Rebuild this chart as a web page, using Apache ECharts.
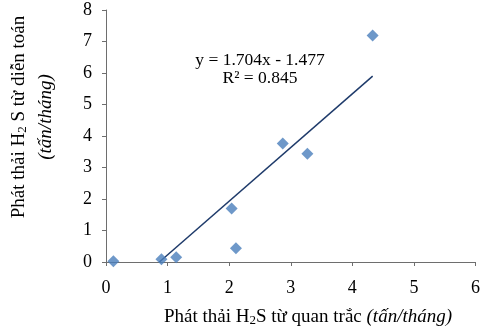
<!DOCTYPE html>
<html>
<head>
<meta charset="utf-8">
<script src="https://cdn.jsdelivr.net/npm/echarts@6/dist/echarts.min.js"></script>
<style>
  html, body { margin: 0; padding: 0; background: #fff; }
  #chart { width: 483px; height: 334px; }
</style>
</head>
<body>
<div id="chart"></div>
<script>
// observed vs modelled H2S emissions (tấn/tháng)
const observed = [0.12, 0.90, 1.14, 2.04, 2.11, 2.87, 3.27, 4.33]
const modelled = [0.02, 0.09, 0.15, 1.70, 0.44, 3.76, 3.44, 7.19]
const xTicks = [0, 1, 2, 3, 4, 5, 6]
const yTicks = [0, 1, 2, 3, 4, 5, 6, 7, 8]

// linear trendline shown on the chart
const slope = 1.704
const intercept = -1.477
const trendX = [-intercept / slope, 4.33]

const chartDom = document.getElementById('chart')
const myChart = echarts.init(chartDom)

const serif = '"Liberation Serif", "Times New Roman", serif'
const axisColor = '#6e6e6e'

const points = observed.map((x, i) => [x, modelled[i]])
const trend = trendX.map(x => [x, slope * x + intercept])

const option = {
  animation: false,
  grid: { left: 106, right: 7, top: 10, bottom: 72 },
  xAxis: {
    type: 'value',
    min: xTicks[0],
    max: xTicks[xTicks.length - 1],
    interval: 1,
    splitLine: { show: false },
    axisLine: { lineStyle: { color: axisColor } },
    axisTick: { show: true, length: 4, lineStyle: { color: axisColor } },
    axisLabel: { margin: 17, color: '#000', fontFamily: serif, fontSize: 18 }
  },
  yAxis: {
    type: 'value',
    min: yTicks[0],
    max: yTicks[yTicks.length - 1],
    interval: 1,
    splitLine: { show: false },
    axisLine: { show: true, lineStyle: { color: axisColor } },
    axisTick: { show: true, length: 4, lineStyle: { color: axisColor } },
    axisLabel: { margin: 14, color: '#000', fontFamily: serif, fontSize: 18 }
  },
  series: [
    {
      type: 'line',
      data: trend,
      showSymbol: false,
      lineStyle: { color: '#1F3B6B', width: 1.5 },
      z: 1
    },
    {
      type: 'scatter',
      data: points,
      symbol: 'diamond',
      symbolSize: 12,
      itemStyle: { color: '#4A7EBB' },
      z: 2
    }
  ],
  graphic: [
    {
      type: 'text',
      x: 260, y: 69,
      style: {
        text: 'y = 1.704x - 1.477\nR² = 0.845',
        font: '17.5px ' + serif,
        lineHeight: 18,
        fill: '#000',
        align: 'center',
        verticalAlign: 'middle'
      }
    },
    {
      type: 'text',
      x: 308, y: 317,
      style: {
        text: '{n|Phát thải H}{s|2}{n|S từ quan trắc }{i|(tấn/tháng)}',
        align: 'center',
        verticalAlign: 'middle',
        rich: {
          n: { font: '19px ' + serif, fill: '#000', lineHeight: 20 },
          s: { font: '13px ' + serif, fill: '#000', lineHeight: 13, padding: [8, 0, 0, 0] },
          i: { font: 'italic 19px ' + serif, fill: '#000', lineHeight: 20 }
        }
      }
    },
    {
      type: 'text',
      x: 19, y: 117,
      rotation: Math.PI / 2,
      style: {
        text: '{n|Phát thải H}{s|2}{n| S từ diễn toán}',
        align: 'center',
        verticalAlign: 'middle',
        rich: {
          n: { font: '19px ' + serif, fill: '#000', lineHeight: 20 },
          s: { font: '13px ' + serif, fill: '#000', lineHeight: 13, padding: [8, 0, 0, 0] }
        }
      }
    },
    {
      type: 'text',
      x: 46, y: 117,
      rotation: Math.PI / 2,
      style: {
        text: '(tấn/tháng)',
        font: 'italic 19px ' + serif,
        fill: '#000',
        align: 'center',
        verticalAlign: 'middle'
      }
    }
  ]
}

option && myChart.setOption(option)
</script>
</body>
</html>
